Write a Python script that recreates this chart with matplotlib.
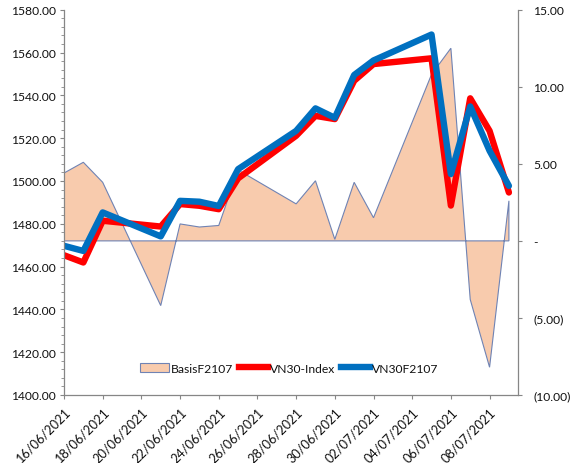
import matplotlib
matplotlib.use('Agg')
import matplotlib.pyplot as plt
import matplotlib.dates as mdates
import pandas as pd
from matplotlib.ticker import MultipleLocator, FuncFormatter
from matplotlib.patches import Patch
from matplotlib.lines import Line2D

plt.rcParams['font.family'] = ['Lato', 'DejaVu Sans']

dates = ['2021-06-16', '2021-06-17', '2021-06-18', '2021-06-21', '2021-06-22',
         '2021-06-23', '2021-06-24', '2021-06-25', '2021-06-28', '2021-06-29',
         '2021-06-30', '2021-07-01', '2021-07-02', '2021-07-05', '2021-07-06',
         '2021-07-07', '2021-07-08', '2021-07-09']
vn30_index = [1465.3, 1461.9, 1481.4, 1478.7, 1489.2, 1488.4, 1486.8, 1501.2, 1521.1,
              1530.4, 1528.9, 1546.8, 1554.6, 1557.3, 1488.5, 1538.6, 1523.4, 1494.6]
vn30f2107 = [1469.7, 1467.3, 1485.3, 1474.1, 1490.7, 1490.3, 1488.3, 1505.5, 1523.4,
             1533.9, 1529.5, 1549.5, 1556.3, 1568.4, 1503.2, 1534.8, 1514.1, 1497.7]
basis = [4.4, 5.1, 3.8, -4.2, 1.1, 0.9, 1.0, 4.6, 2.4, 3.9, 0.1, 3.8, 1.5, 10.8,
         12.5, -3.8, -8.2, 2.6]
tick_start, tick_end = '2021-06-16', '2021-07-08'

x = mdates.date2num(pd.to_datetime(dates).to_pydatetime())
ticks = mdates.date2num(pd.date_range(tick_start, tick_end, freq='2D').to_pydatetime())

W, H = 573, 464
fig = plt.figure(figsize=(W / 100, H / 100), dpi=100)
ax = fig.add_axes([64 / W, 1 - 396 / H, (518 - 64) / W, (396 - 10.7) / H])
ax2 = ax.twinx()
ax.set_zorder(ax2.get_zorder() + 1)
ax.patch.set_visible(False)

grey = '#868686'
txt = '#111111'

# Basis area (right axis)
px = [x[0]] + list(x) + [x[-1]]
py = [0] + list(basis) + [0]
ax2.fill(px, py, facecolor='#F8CBAD', edgecolor='#6F83B4', linewidth=0.8)

# Lines (left axis)
ax.plot(x, vn30_index, color='#FF0000', lw=4.6, solid_joinstyle='round',
        solid_capstyle='round')
ax.plot(x, vn30f2107, color='#0070C0', lw=4.6, solid_joinstyle='round',
        solid_capstyle='round')

ax.set_xlim(x[0], x[-1] + 0.47)
ax.set_ylim(1400, 1580)
ax2.set_ylim(-10, 15)

ax.yaxis.set_major_locator(MultipleLocator(20))
ax.yaxis.set_minor_locator(MultipleLocator(4))
ax.yaxis.set_major_formatter(FuncFormatter(lambda v, p: f'{v:.2f}'))

def rfmt(v, p):
    if abs(v) < 1e-9:
        return '-'
    if v < 0:
        return f'({abs(v):.2f})'
    return f'{v:.2f}'

ax2.yaxis.set_major_locator(MultipleLocator(5))
ax2.yaxis.set_major_formatter(FuncFormatter(rfmt))

ax.set_xticks(ticks)
ax.xaxis.set_major_formatter(mdates.DateFormatter('%d/%m/%Y'))
for lbl in ax.get_xticklabels():
    lbl.set_rotation(45)
    lbl.set_ha('right')
    lbl.set_rotation_mode('anchor')

for a in (ax, ax2):
    for s in a.spines.values():
        s.set_color(grey)
        s.set_linewidth(0.9)
    a.spines['top'].set_visible(False)
ax.spines['right'].set_visible(False)
ax2.spines['left'].set_visible(False)
ax2.spines['bottom'].set_visible(False)

fs = 8.7
ax.tick_params(axis='y', which='major', direction='out', length=3, color=grey,
               labelsize=fs, labelcolor=txt, pad=3)
ax.tick_params(axis='y', which='minor', direction='out', length=2, color=grey)
ax.tick_params(axis='x', which='major', direction='out', length=3, color=grey,
               labelsize=9.2, labelcolor=txt, pad=4.5)
ax2.tick_params(axis='y', which='major', direction='out', length=3, color=grey,
                labelsize=fs, labelcolor=txt, pad=8)

handles = [Patch(facecolor='#F8CBAD', edgecolor='#6F83B4', linewidth=0.8),
           Line2D([0], [0], color='#FF0000', lw=4.6),
           Line2D([0], [0], color='#0070C0', lw=4.6)]
labels = ['BasisF2107', 'VN30-Index', 'VN30F2107']
ax.legend(handles, labels, loc='center', bbox_to_anchor=(0.496, 0.070),
          ncol=3, frameon=False, fontsize=fs, handlelength=2.4,
          handletextpad=0.2, columnspacing=0.45, labelcolor=txt)

fig.savefig('out.png', dpi=100)
